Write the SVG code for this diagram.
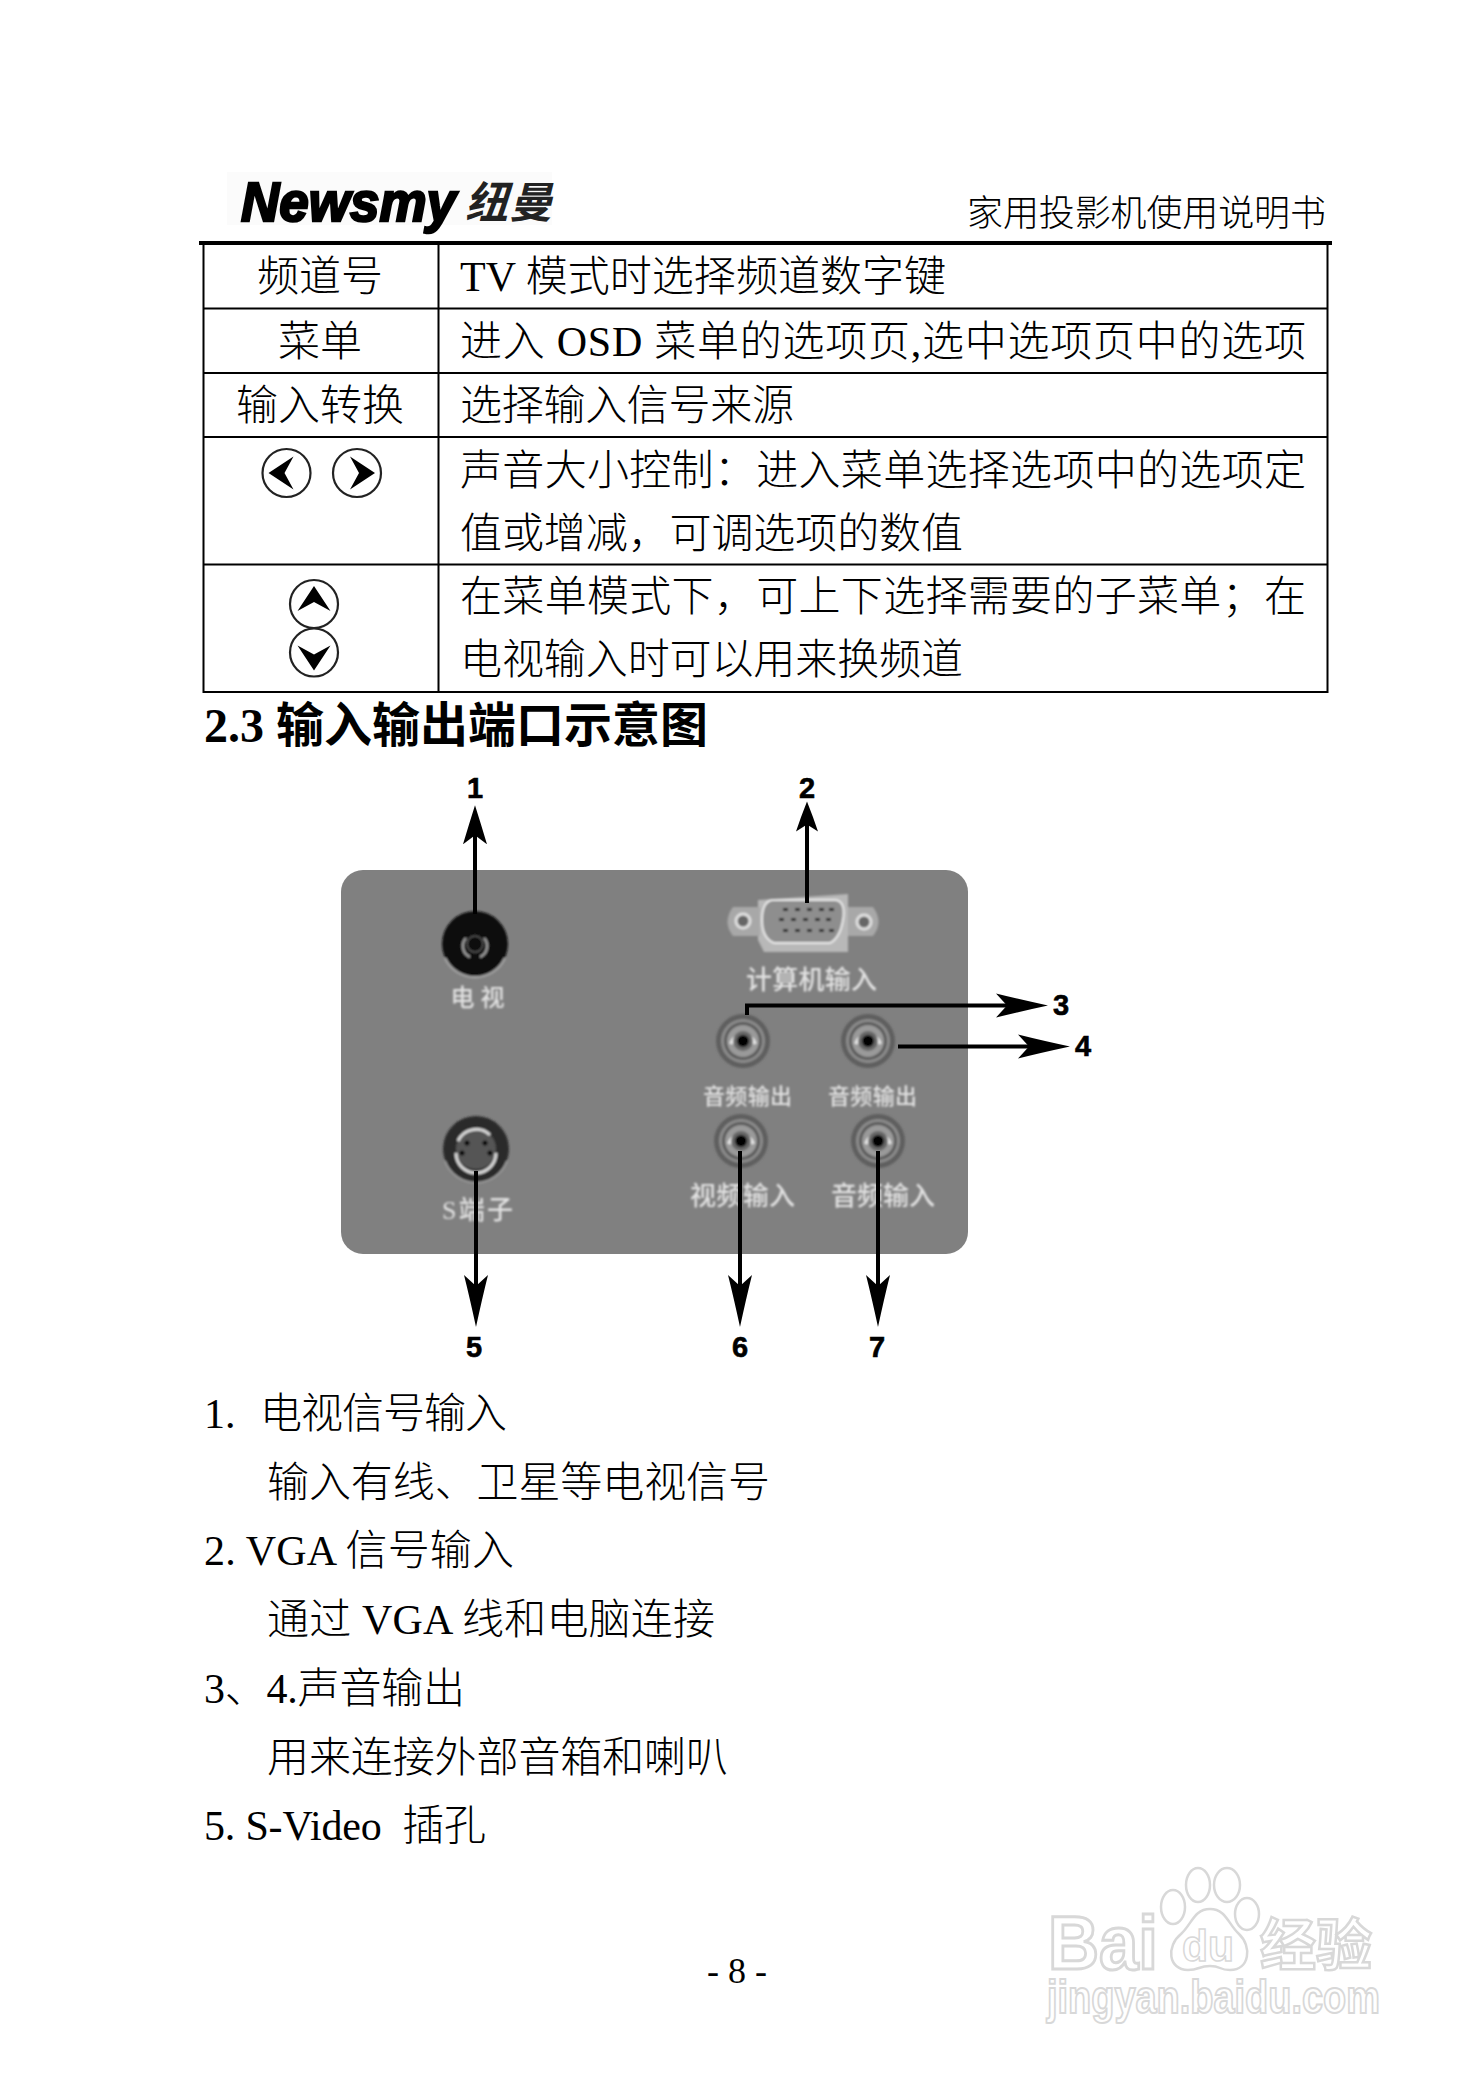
<svg xmlns="http://www.w3.org/2000/svg" xmlns:xlink="http://www.w3.org/1999/xlink" width="1472" height="2084" viewBox="0 0 1472 2084">
<style>
text{font-family:"Liberation Serif","Noto Sans CJK SC",serif;fill:#000}
.b{font-size:42px;font-weight:300}
.h{font-size:48px;font-weight:700}
.hd{font-size:36px;font-weight:300}
.m{text-anchor:middle}
.n{font-family:"Liberation Sans",Arial,sans-serif;font-size:29px;font-weight:700;text-anchor:middle;stroke:#000;stroke-width:.6}
.pl{font-size:22px;fill:#e2e2e2;font-weight:500}
.pl24{font-size:24px}
.pl26{font-size:26px}
.grid{stroke:#000;stroke-width:2;fill:none}
.conn{stroke:#000;stroke-width:4;fill:none}
.wm{fill:#fff;stroke:#d8d8d8;stroke-width:3;font-family:"Liberation Sans",sans-serif;font-weight:700}
.wmc{fill:#fff;stroke:#d8d8d8;stroke-width:2.500}
.btn{fill:#fff;stroke:#222;stroke-width:2.200}
</style>
<defs>
<marker id="h52" markerUnits="userSpaceOnUse" markerWidth="60" markerHeight="30" viewBox="0 -15 60 30" refX="16" refY="0" orient="auto"><path d="M52,0Q24,-6 0,-12L11,0L0,12Q24,6 52,0Z" fill="#000"/></marker>
<marker id="h38" markerUnits="userSpaceOnUse" markerWidth="60" markerHeight="30" viewBox="0 -15 60 30" refX="12" refY="0" orient="auto"><path d="M39,0Q20,-6 0,-12L9,0L0,12Q20,6 39,0Z" fill="#000"/></marker>
<marker id="h30" markerUnits="userSpaceOnUse" markerWidth="60" markerHeight="30" viewBox="0 -15 60 30" refX="10" refY="0" orient="auto"><path d="M30,0Q15,-6 0,-11L7,0L0,11Q15,6 30,0Z" fill="#000"/></marker>
<filter id="soft" x="-20%" y="-20%" width="140%" height="140%"><feGaussianBlur stdDeviation="0.8"/></filter>
<g id="btn"><circle class="btn" r="24"/><path d="M-18,0L7,-16.500L-2,0L7,16.500Z" fill="#000"/></g>
<g id="rca">
<circle r="27" fill="#5e5e5e"/><circle r="22" fill="#8c8c8c"/><circle r="19" fill="#5a5a5a"/><circle r="16" fill="#9a9a9a"/>
<path d="M-12,3A12.500,12.500 0 0 1 12,3" fill="none" stroke="#e6e6e6" stroke-width="4"/>
<circle r="10" fill="#666"/><circle r="6" fill="#000"/>
</g>
</defs>
<rect width="1472" height="2084" fill="#fff"/>

<g id="logo">
<rect x="227" y="172" width="325" height="53" fill="#fbfbfb"/>
<text x="241" y="221" font-size="56" font-style="italic" font-weight="700" textLength="215" lengthAdjust="spacingAndGlyphs" style="font-family:'Liberation Sans',sans-serif;stroke:#000;stroke-width:2.500">Newsmy</text>
<text x="465" y="218" font-size="43" font-style="italic" font-weight="700" textLength="87" style="font-family:'Noto Sans CJK SC',sans-serif;fill:#222">纽曼</text>
</g>
<g id="header">
<text class="hd" x="967" y="226" textLength="359">家用投影机使用说明书</text>
<rect x="199" y="241" width="1133" height="4" fill="#000"/>
</g>

<g id="table">
<path class="grid" d="M203.500,243V692H1327.500V243M438.500,243V692M203,308.500H1327M203,373H1327M203,437H1327M203,564.500H1327"/>
<text class="b m" x="320" y="291">频道号</text>
<text class="b" x="460" y="291" textLength="486">TV 模式时选择频道数字键</text>
<text class="b m" x="320" y="356">菜单</text>
<text class="b" x="460" y="356" textLength="846">进入 OSD 菜单的选项页,选中选项页中的选项</text>
<text class="b m" x="320" y="420">输入转换</text>
<text class="b" x="460" y="420" textLength="334">选择输入信号来源</text>
<text class="b" x="460" y="485" textLength="846">声音大小控制&#xFF1A;进入菜单选择选项中的选项定</text>
<text class="b" x="460" y="548" textLength="503">值或增减&#xFF0C;可调选项的数值</text>
<text class="b" x="460" y="611" textLength="846">在菜单模式下&#xFF0C;可上下选择需要的子菜单&#xFF1B;在</text>
<text class="b" x="460" y="674" textLength="503">电视输入时可以用来换频道</text>
<use xlink:href="#btn" transform="translate(286.500,473)"/>
<use xlink:href="#btn" transform="translate(357,473) rotate(180)"/>
<use xlink:href="#btn" transform="translate(314,604) rotate(90)"/>
<use xlink:href="#btn" transform="translate(314,652.500) rotate(-90)"/>
</g>

<text class="h" x="204" y="742" textLength="504">2.3 输入输出端口示意图</text>

<g id="panel">
<rect x="341" y="870" width="627" height="384" rx="22" fill="#808080"/>
</g>
<g id="port-tv" filter="url(#soft)">
<circle cx="475" cy="944" r="33" fill="#111"/>
<path d="M445,958A33,33 0 0 0 505,958" fill="none" stroke="#a0a0a0" stroke-width="2.500"/>
<path d="M466,938A12,12 0 0 0 470,957M484,938A12,12 0 0 1 480,957" fill="none" stroke="#9a9a9a" stroke-width="2.500"/>
<circle cx="475" cy="944" r="8" fill="none" stroke="#555" stroke-width="1.500"/>
<text class="pl pl24" x="477.500" y="1006" xml:space="preserve" text-anchor="middle">电 视</text>
</g>
<g id="port-vga" filter="url(#soft)">
<path d="M758,900L848,894V952H764L758,940Z" fill="#b8b8b8"/>
<path d="M733,907H760V936H733Q722,922 733,907Z" fill="#a8a8a8"/>
<path d="M848,907H873Q884,922 873,936H848Z" fill="#a8a8a8"/>
<circle cx="743" cy="921" r="7" fill="#666" stroke="#e0e0e0" stroke-width="3"/>
<circle cx="864" cy="922" r="7" fill="#666" stroke="#e0e0e0" stroke-width="3"/>
<path d="M772,900H836Q846,902 843,920Q840,938 830,943H774Q762,938 762,920Q762,902 772,900Z" fill="#8e8e8e" stroke="#e8e8e8" stroke-width="2"/>
<g fill="#2a2a2a"><rect x="783" y="908" width="5" height="3"/><rect x="795" y="908" width="5" height="3"/><rect x="807" y="908" width="5" height="3"/><rect x="819" y="908" width="5" height="3"/><rect x="829" y="908" width="5" height="3"/>
<rect x="779" y="918" width="5" height="3"/><rect x="791" y="918" width="5" height="3"/><rect x="803" y="918" width="5" height="3"/><rect x="815" y="918" width="5" height="3"/><rect x="826" y="918" width="5" height="3"/>
<rect x="783" y="929" width="5" height="3"/><rect x="795" y="929" width="5" height="3"/><rect x="807" y="929" width="5" height="3"/><rect x="819" y="929" width="5" height="3"/><rect x="829" y="929" width="5" height="3"/></g>
<text class="pl pl26" x="746" y="989" textLength="131">计算机输入</text>
</g>
<g id="port-audio-out-1" filter="url(#soft)"><use xlink:href="#rca" x="743" y="1041"/><text class="pl" x="703" y="1104" textLength="89">音频输出</text></g>
<g id="port-audio-out-2" filter="url(#soft)"><use xlink:href="#rca" x="868" y="1041"/><text class="pl" x="828" y="1104" textLength="89">音频输出</text></g>
<g id="port-svideo" filter="url(#soft)">
<circle cx="476" cy="1149" r="33" fill="#2a2a2a"/>
<path d="M445,1161A33,33 0 0 0 507,1161" fill="none" stroke="#999" stroke-width="2"/>
<circle cx="476" cy="1149" r="20" fill="#555"/>
<path d="M458,1141A20,20 0 0 1 490,1135M456,1153A20,20 0 0 0 496,1153" fill="none" stroke="#d8d8d8" stroke-width="3"/>
<circle cx="467" cy="1143" r="2.500" fill="#000"/><circle cx="485" cy="1143" r="2.500" fill="#000"/><circle cx="462" cy="1153" r="2.500" fill="#000"/><circle cx="490" cy="1153" r="2.500" fill="#000"/>
<text class="pl pl26" x="442" y="1219" textLength="71">S端子</text>
</g>
<g id="port-video-in" filter="url(#soft)"><use xlink:href="#rca" x="741" y="1141"/><text class="pl pl26" x="690" y="1205" textLength="105">视频输入</text></g>
<g id="port-audio-in" filter="url(#soft)"><use xlink:href="#rca" x="878" y="1141"/><text class="pl pl26" x="831" y="1205" textLength="104">音频输入</text></g>

<g id="connectors">
<path class="conn" d="M475,914V832.300" marker-end="url(#h38)"/>
<path class="conn" d="M807,903V821.500" marker-end="url(#h30)"/>
<path class="conn" d="M747,1015V1005.500H1012" marker-end="url(#h52)"/>
<path class="conn" d="M898,1046.500H1034" marker-end="url(#h52)"/>
<path class="conn" d="M476,1171V1291" marker-end="url(#h52)"/>
<path class="conn" d="M740,1151V1291" marker-end="url(#h52)"/>
<path class="conn" d="M878,1151V1291" marker-end="url(#h52)"/>
</g>
<g id="numbers">
<text class="n" x="475" y="798">1</text>
<text class="n" x="807" y="798">2</text>
<text class="n" x="1061" y="1015">3</text>
<text class="n" x="1083" y="1056">4</text>
<text class="n" x="474" y="1357">5</text>
<text class="n" x="740" y="1357">6</text>
<text class="n" x="877" y="1357">7</text>
</g>

<g id="list">
<text class="b" x="204" y="1428">1.</text>
<text class="b" x="260" y="1428" textLength="247">电视信号输入</text>
<text class="b" x="267" y="1497" textLength="503">输入有线、卫星等电视信号</text>
<text class="b" x="204" y="1565" textLength="310">2. VGA 信号输入</text>
<text class="b" x="267" y="1634" textLength="448">通过 VGA 线和电脑连接</text>
<text class="b" x="204" y="1703" textLength="261">3、4.声音输出</text>
<text class="b" x="267" y="1772" textLength="461">用来连接外部音箱和喇叭</text>
<text class="b" x="204" y="1840" textLength="282" xml:space="preserve">5. S-Video  插孔</text>
<text class="b m" x="737" y="1983" style="font-size:36px">- 8 -</text>
</g>

<g id="watermark">
<text class="wm" x="1048" y="1969" font-size="76" textLength="110" lengthAdjust="spacingAndGlyphs">Bai</text>
<ellipse class="wmc" cx="1173" cy="1907" rx="12" ry="17"/>
<ellipse class="wmc" cx="1198" cy="1885" rx="12" ry="17"/>
<ellipse class="wmc" cx="1227" cy="1885" rx="13" ry="17"/>
<ellipse class="wmc" cx="1247" cy="1914" rx="12" ry="16"/>
<path class="wmc" d="M1210,1909C1226,1909 1228,1924 1239,1934C1252,1946 1250,1970 1230,1970C1218,1970 1222,1966 1210,1966C1198,1966 1200,1970 1188,1970C1168,1970 1166,1946 1181,1934C1192,1924 1194,1909 1210,1909Z"/>
<text class="wm" x="1182" y="1961" font-size="44" textLength="52" lengthAdjust="spacingAndGlyphs" style="stroke-width:1.500">du</text>
<text class="wmc" x="1260" y="1965" font-size="56" font-weight="700" textLength="112" style="font-family:'Noto Sans CJK SC',sans-serif">经验</text>
<text class="wm" x="1047" y="2013" font-size="46" textLength="333" lengthAdjust="spacingAndGlyphs" style="stroke-width:2">jingyan.baidu.com</text>
</g>
</svg>
